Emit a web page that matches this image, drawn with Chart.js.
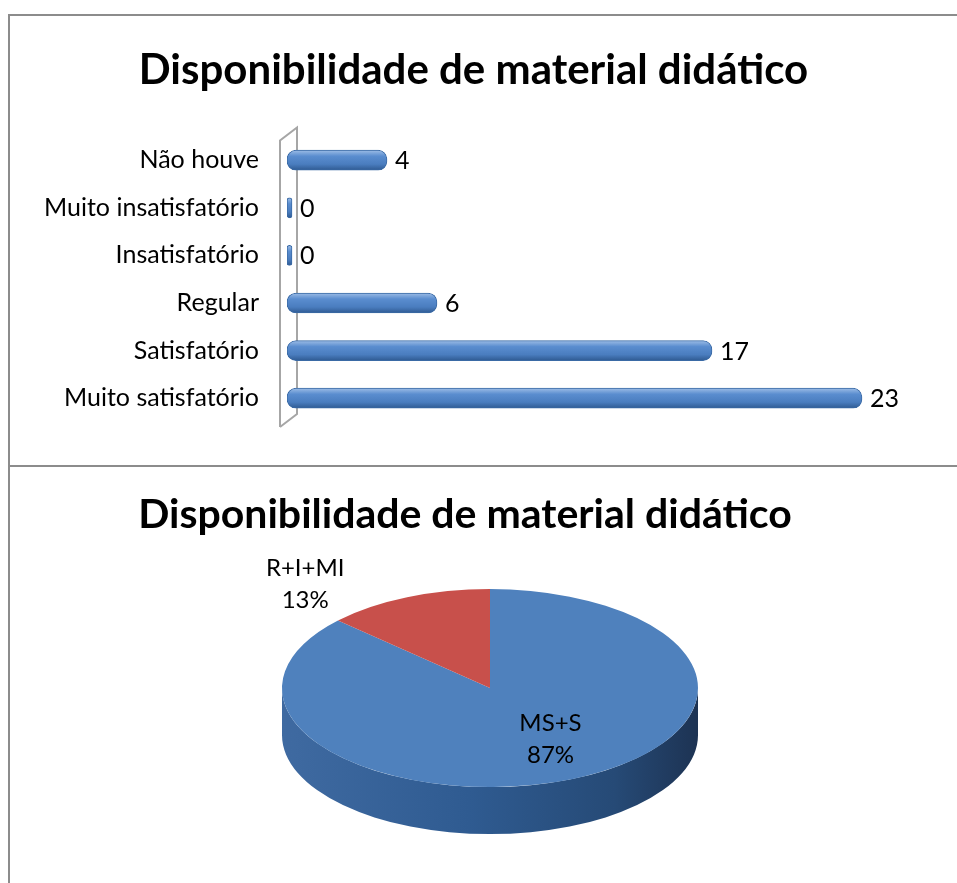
<!DOCTYPE html>
<html>
<head>
<meta charset="utf-8">
<script src="https://cdn.jsdelivr.net/npm/chart.js@4.4.0/dist/chart.umd.min.js"></script>
<style>
  body { margin: 0; background: #fff; width: 957px; height: 883px; overflow: hidden; position: relative; }
  .box { position: absolute; border: 2px solid #8c8c8c; background: #fff; }
  #boxBar { left: 8px; top: 14px; width: 956px; height: 449px; }
  #boxPie { left: 8px; top: 465px; width: 956px; height: 430px; }
  canvas { display: block; }
</style>
</head>
<body>
<div class="box" id="boxBar"><canvas id="barChart" width="956" height="449"></canvas></div>
<div class="box" id="boxPie"><canvas id="pieChart" width="956" height="420"></canvas></div>
<script>
// dados
const titulo = 'Disponibilidade de material didático';
const categorias = ['Não houve', 'Muito insatisfatório', 'Insatisfatório', 'Regular', 'Satisfatório', 'Muito satisfatório'];
const respostas = [4, 0, 0, 6, 17, 23];

const grupos = ['MS+S', 'R+I+MI'];
const totaisGrupo = [40, 6];

const fonte = 'Lato, "Open Sans", sans-serif';
Chart.defaults.font.family = fonte;
Chart.defaults.color = '#000';
Chart.defaults.animation = false;

// parede 3D do eixo vertical
const paredePlugin = {
  id: 'parede',
  beforeDatasetsDraw(chart) {
    const a = chart.chartArea, ctx = chart.ctx;
    ctx.save();
    ctx.strokeStyle = '#a6a6a6';
    ctx.lineWidth = 2;
    ctx.beginPath();
    ctx.moveTo(a.left - 7, a.bottom + 5);
    ctx.lineTo(a.left - 7, a.top + 4);
    ctx.lineTo(a.left + 10, a.top - 9);
    ctx.lineTo(a.left + 10, a.bottom - 8);
    ctx.lineTo(a.left - 7, a.bottom + 5);
    ctx.stroke();
    ctx.restore();
  }
};

const rotulosBarra = {
  id: 'rotulosBarra',
  afterDatasetsDraw(chart) {
    const ctx = chart.ctx;
    const meta = chart.getDatasetMeta(0);
    ctx.save();
    ctx.font = '25px ' + fonte;
    ctx.fillStyle = '#000';
    ctx.textAlign = 'left';
    ctx.textBaseline = 'middle';
    meta.data.forEach((el, i) => {
      ctx.fillText(String(respostas[i]), Math.max(el.x, el.base + 4) + 8, el.y + 1);
    });
    ctx.restore();
  }
};

const ctxBar = document.getElementById('barChart').getContext('2d');
const barChart = new Chart(ctxBar, {
  type: 'bar',
  data: {
    labels: categorias,
    datasets: [{
      data: respostas,
      backgroundColor: function (context) {
        const chart = context.chart;
        const y = chart.scales.y ? chart.scales.y.getPixelForValue(context.dataIndex) : 0;
        if (!isFinite(y)) return '#4f81bd';
        const g = chart.ctx.createLinearGradient(0, y - 10, 0, y + 10);
        g.addColorStop(0, '#9dbde6');
        g.addColorStop(0.3, '#5a8dcf');
        g.addColorStop(0.7, '#4a7dbf');
        g.addColorStop(1, '#2f5a92');
        return g;
      },
      borderColor: '#3a6aa5',
      borderWidth: 1,
      borderRadius: 9,
      borderSkipped: false,
      barThickness: 20,
      minBarLength: 5
    }]
  },
  options: {
    responsive: false,
    indexAxis: 'y',
    layout: { padding: { left: 0, right: 29, top: 0, bottom: 40 } },
    plugins: {
      legend: { display: false },
      tooltip: { enabled: false },
      title: {
        display: true,
        text: titulo,
        font: { size: 42, weight: 'bold' },
        color: '#000',
        padding: { top: 29, bottom: 41 }
      }
    },
    scales: {
      x: { display: false, min: 0, max: 26 },
      y: {
        grid: { display: false, drawTicks: false },
        border: { display: false },
        ticks: { font: { size: 25 }, color: '#000', padding: 28 },
        afterFit: function (scale) { scale.width = 277; }
      }
    }
  },
  plugins: [paredePlugin, rotulosBarra]
});

// pizza achatada com lateral 3D (deslocada um pouco à direita do título)
const pizza3D = {
  id: 'pizza3D',
  beforeDatasetsDraw(chart, args, opts) {
    const arc = chart.getDatasetMeta(0).data[0];
    if (!arc) return;
    const ctx = chart.ctx;
    const cx = arc.x + opts.deslocX, cy = arc.y, r = arc.outerRadius;
    const ry = r * opts.achatar, d = opts.altura;
    ctx.save();
    const g = ctx.createLinearGradient(cx - r, 0, cx + r, 0);
    g.addColorStop(0, '#3f6aa1');
    g.addColorStop(0.45, '#2f5b91');
    g.addColorStop(0.8, '#264a76');
    g.addColorStop(1, '#1d3353');
    ctx.fillStyle = g;
    ctx.beginPath();
    ctx.ellipse(cx, cy, r, ry, 0, 0, Math.PI);
    ctx.lineTo(cx - r, cy + d);
    ctx.ellipse(cx, cy + d, r, ry, 0, Math.PI, 0, true);
    ctx.closePath();
    ctx.fill();
    ctx.restore();
    ctx.save();
    ctx.translate(cx, cy);
    ctx.scale(1, opts.achatar);
    ctx.translate(-arc.x, -cy);
  },
  afterDatasetsDraw(chart, args, opts) {
    const ctx = chart.ctx;
    ctx.restore();
    const meta = chart.getDatasetMeta(0);
    const total = totaisGrupo.reduce((s, v) => s + v, 0);
    ctx.save();
    ctx.font = '24px ' + fonte;
    ctx.fillStyle = '#000';
    ctx.textAlign = 'center';
    ctx.textBaseline = 'middle';
    meta.data.forEach((arc, i) => {
      const mid = (arc.startAngle + arc.endAngle) / 2;
      const f = opts.fatores[i];
      const x = arc.x + opts.deslocX + Math.cos(mid) * arc.outerRadius * f[0];
      const y = arc.y + Math.sin(mid) * arc.outerRadius * opts.achatar * f[1];
      ctx.fillText(grupos[i], x, y - 16);
      ctx.fillText(Math.round(totaisGrupo[i] / total * 100) + '%', x, y + 16);
    });
    ctx.restore();
  }
};

const ctxPie = document.getElementById('pieChart').getContext('2d');
const pieChart = new Chart(ctxPie, {
  type: 'pie',
  data: {
    labels: grupos,
    datasets: [{
      data: totaisGrupo,
      backgroundColor: ['#4f81bd', '#c8504b'],
      borderWidth: 0
    }]
  },
  options: {
    responsive: false,
    radius: 208,
    layout: { padding: { left: 0, right: 46, top: 0, bottom: 66 } },
    plugins: {
      legend: { display: false },
      tooltip: { enabled: false },
      title: {
        display: true,
        text: titulo,
        font: { size: 41, weight: 'bold' },
        color: '#000',
        padding: { top: 23, bottom: 16 }
      },
      pizza3D: { achatar: 0.476, altura: 47, deslocX: 25, fatores: [[0.73, 0.56], [2.23, 1.14]] }
    }
  },
  plugins: [pizza3D]
});
</script>
</body>
</html>
